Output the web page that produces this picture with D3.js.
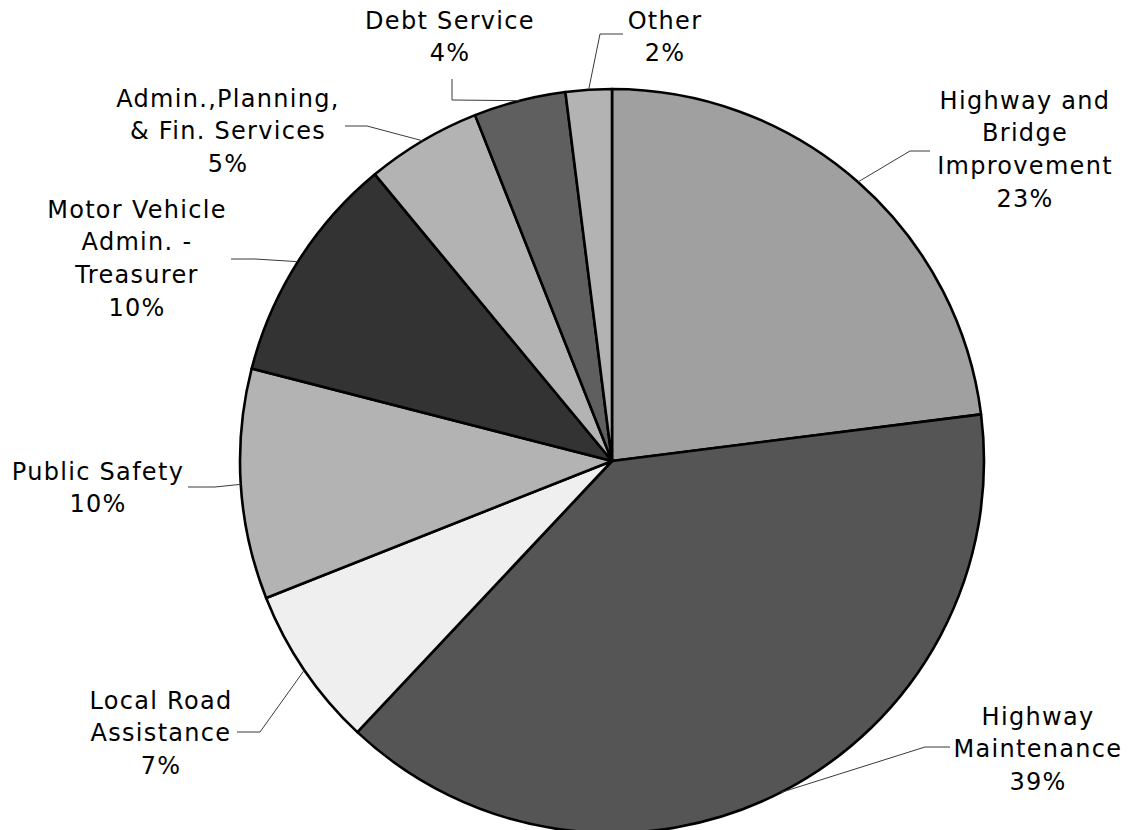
<!DOCTYPE html>
<html>
<head>
<meta charset="utf-8">
<script src="https://cdn.jsdelivr.net/npm/d3@7"></script>
<style>
  html, body { margin: 0; padding: 0; background: #fff; }
  svg { display: block; }
  text { font-family: "DejaVu Sans", Verdana, sans-serif; font-size: 24px; letter-spacing: 1.3px; fill: #000; }
</style>
</head>
<body>
<svg id="chart" width="1129" height="830"></svg>
<script>
// Budget shares, clockwise from 12 o'clock
const categories = [
  "Highway and Bridge Improvement",
  "Highway Maintenance",
  "Local Road Assistance",
  "Public Safety",
  "Motor Vehicle Admin. - Treasurer",
  "Admin.,Planning, & Fin. Services",
  "Debt Service",
  "Other"
];
const shares = [23, 39, 7, 10, 10, 5, 4, 2];

// Label text as wrapped lines (percent line appended from the data)
const labelLines = [
  ["Highway and", "Bridge", "Improvement"],
  ["Highway", "Maintenance"],
  ["Local Road", "Assistance"],
  ["Public Safety"],
  ["Motor Vehicle", "Admin. -", "Treasurer"],
  ["Admin.,Planning,", "& Fin. Services"],
  ["Debt Service"],
  ["Other"]
];

// Slice fills
const fills = ["#a0a0a0", "#555555", "#efefef", "#b3b3b3", "#333333", "#b3b3b3", "#5f5f5f", "#b3b3b3"];

// Label placement: block centre x, first line centre y, leader elbow and end
const labelLayout = [
  { x: 1025, y: 100, elbow: [910, 151], end: [930, 151] },
  { x: 1038, y: 716, elbow: [925, 747], end: [950, 747] },
  { x: 161,  y: 700, elbow: [260, 732], end: [237, 732] },
  { x: 98,   y: 471, elbow: [215, 487], end: [188, 487] },
  { x: 137,  y: 209, elbow: [255, 259], end: [231, 259] },
  { x: 228,  y: 98,  elbow: [367, 126], end: [345, 126] },
  { x: 450,  y: 20,  elbow: [452, 100], end: [452, 79] },
  { x: 665,  y: 20,  elbow: [600, 34],  end: [623, 34] }
];

const cx = 612, cy = 461, radius = 372, lineGap = 32.7;

const svg = d3.select("#chart");
const data = categories.map((c, i) => ({ name: c, value: shares[i], i }));

const pie = d3.pie().sort(null).value(d => d.value);
const arcs = pie(data);
const arc = d3.arc().innerRadius(0).outerRadius(radius);

const g = svg.append("g").attr("transform", `translate(${cx},${cy})`);

g.selectAll("path.slice")
  .data(arcs)
  .join("path")
  .attr("class", "slice")
  .attr("d", arc)
  .attr("fill", d => fills[d.data.i])
  .attr("stroke", "#000")
  .attr("stroke-width", 2.6)
  .attr("stroke-linejoin", "round");

// Leader lines from the arc midpoint of each slice
const line = d3.line();
svg.selectAll("path.leader")
  .data(arcs)
  .join("path")
  .attr("class", "leader")
  .attr("fill", "none")
  .attr("stroke", "#3a3a3a")
  .attr("stroke-width", 1)
  .attr("d", d => {
    const a = (d.startAngle + d.endAngle) / 2;
    const start = [cx + radius * Math.sin(a), cy - radius * Math.cos(a)];
    const L = labelLayout[d.data.i];
    return line([start, L.elbow, L.end]);
  });

// Category labels with rounded percentage
const labels = svg.selectAll("text.label")
  .data(data)
  .join("text")
  .attr("class", "label")
  .attr("text-anchor", "middle");

labels.each(function(d) {
  const L = labelLayout[d.i];
  const lines = labelLines[d.i].concat([Math.round(d.value) + "%"]);
  d3.select(this).selectAll("tspan")
    .data(lines)
    .join("tspan")
    .attr("x", L.x)
    .attr("y", (t, k) => L.y + k * lineGap + 8.6)
    .text(t => t);
});
</script>
</body>
</html>
